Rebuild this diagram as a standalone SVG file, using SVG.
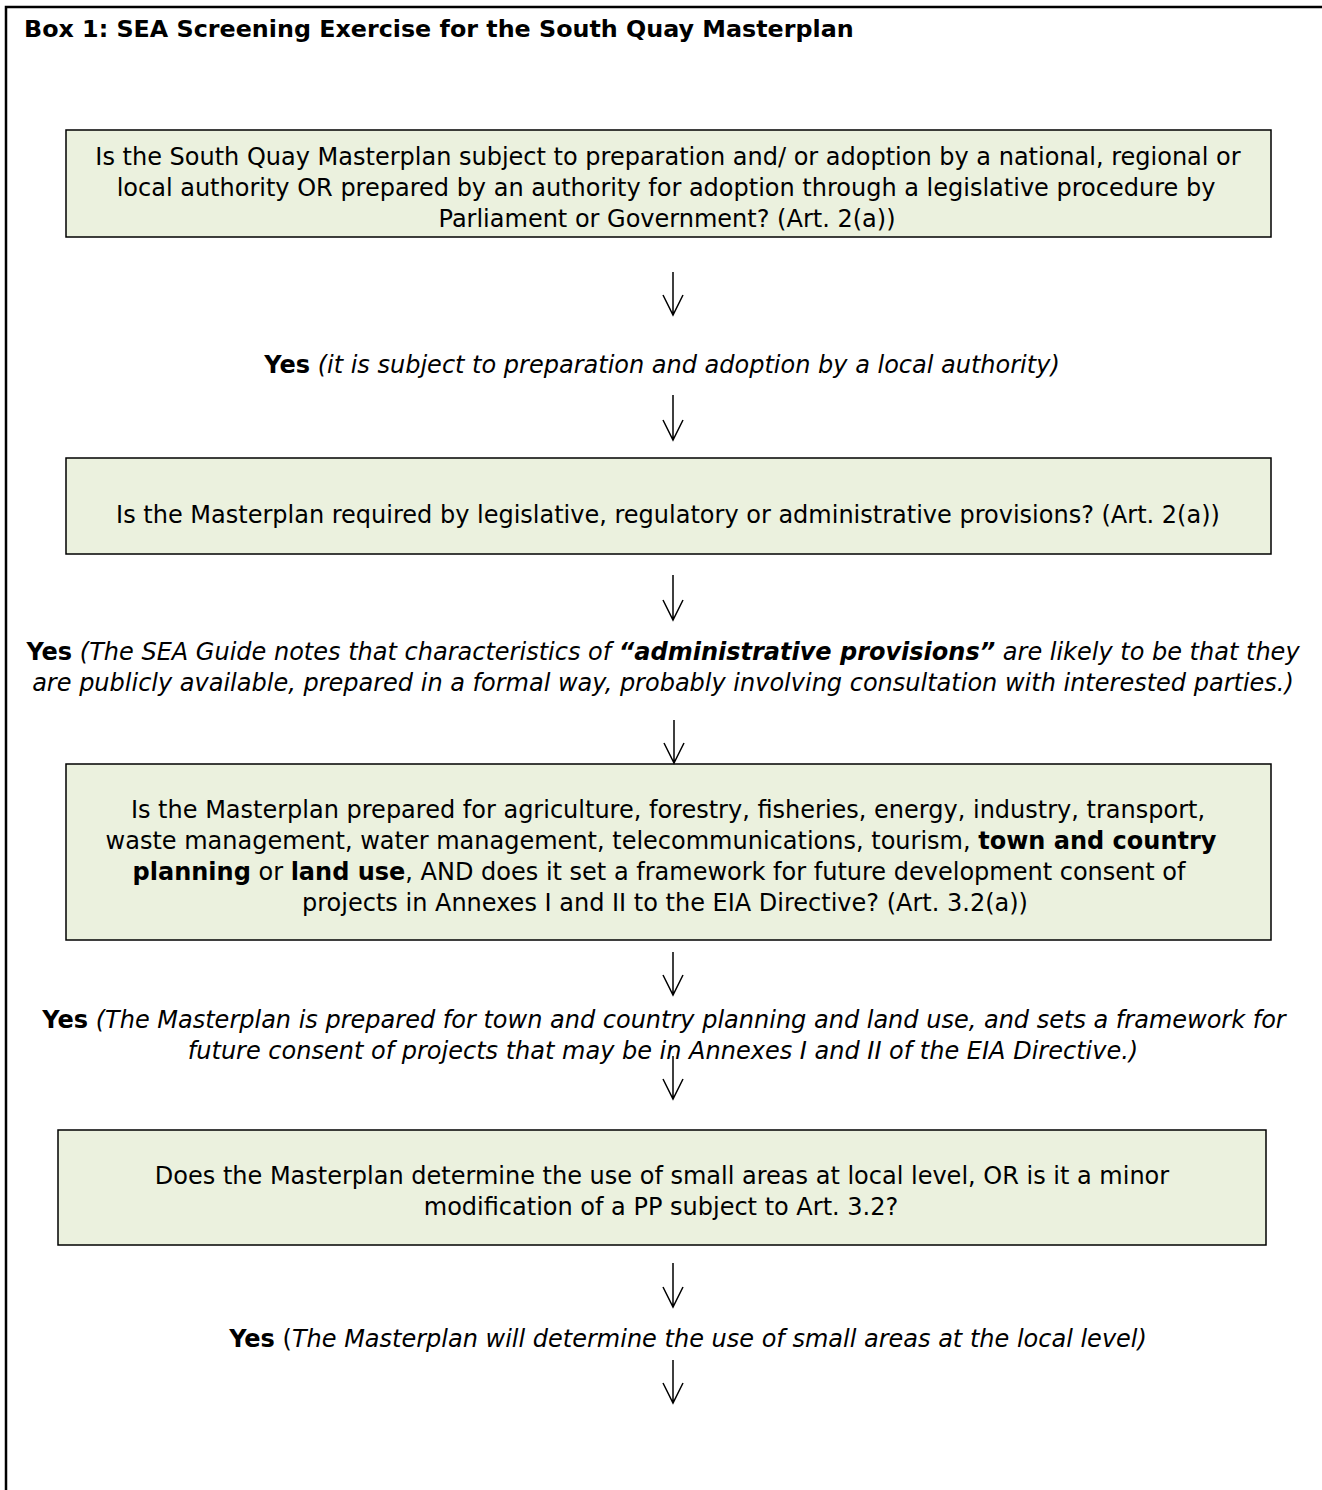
<svg xmlns="http://www.w3.org/2000/svg" width="1322" height="1490" viewBox="0 0 1322 1490">
<style>
text{font-family:"DejaVu Sans","Liberation Sans",sans-serif;font-size:24px;fill:#000}
.c{text-anchor:middle}
.b{font-weight:bold}
.i{font-style:italic}
.box{fill:#EBF1DE;stroke:#000;stroke-width:1.5}
.arr{fill:none;stroke:#000;stroke-width:1.5}
</style>
<rect width="1322" height="1490" fill="#fff"/>
<g id="frame">
<path d="M6 1490 V7 H1322" fill="none" stroke="#000" stroke-width="2.5"/>
<text x="24" y="37" class="b" style="font-size:23.8px">Box 1: SEA Screening Exercise for the South Quay Masterplan</text>
</g>
<g id="q1">
<rect class="box" x="66" y="130" width="1205" height="107"/>
<text class="c" x="668" y="165">Is the South Quay Masterplan subject to preparation and/ or adoption by a national, regional or</text>
<text class="c" x="666" y="196">local authority OR prepared by an authority for adoption through a legislative procedure by</text>
<text class="c" x="667" y="227">Parliament or Government? (Art. 2(a))</text>
</g>
<g id="a1">
<text class="c" x="662" y="373"><tspan class="b">Yes</tspan> <tspan class="i">(it is subject to preparation and adoption by a local authority)</tspan></text>
</g>
<g id="q2">
<rect class="box" x="66" y="458" width="1205" height="96"/>
<text class="c" x="668" y="523">Is the Masterplan required by legislative, regulatory or administrative provisions? (Art. 2(a))</text>
</g>
<g id="a2">
<text class="c" x="663" y="660"><tspan class="b">Yes</tspan> <tspan class="i">(The SEA Guide notes that characteristics of </tspan><tspan class="i b">“administrative provisions”</tspan><tspan class="i"> are likely to be that they</tspan></text>
<text class="c i" x="663" y="691">are publicly available, prepared in a formal way, probably involving consultation with interested parties.)</text>
</g>
<g id="q3">
<rect class="box" x="66" y="764" width="1205" height="176"/>
<text class="c" x="668" y="818">Is the Masterplan prepared for agriculture, forestry, fisheries, energy, industry, transport,</text>
<text class="c" x="661" y="849">waste management, water management, telecommunications, tourism, <tspan class="b">town and country</tspan></text>
<text class="c" x="659" y="880"><tspan class="b">planning</tspan> or <tspan class="b">land use</tspan>, AND does it set a framework for future development consent of</text>
<text class="c" x="665" y="911">projects in Annexes I and II to the EIA Directive? (Art. 3.2(a))</text>
</g>
<g id="a3">
<text class="c" x="664" y="1028"><tspan class="b">Yes</tspan> <tspan class="i">(The Masterplan is prepared for town and country planning and land use, and sets a framework for</tspan></text>
<text class="c i" x="663" y="1059">future consent of projects that may be in Annexes I and II of the EIA Directive.)</text>
</g>
<g id="q4">
<rect class="box" x="58" y="1130" width="1208" height="115"/>
<text class="c" x="662" y="1184">Does the Masterplan determine the use of small areas at local level, OR is it a minor</text>
<text class="c" x="661" y="1215">modification of a PP subject to Art. 3.2?</text>
</g>
<g id="a4">
<text class="c" x="688" y="1347"><tspan class="b">Yes</tspan> (<tspan class="i">The Masterplan will determine the use of small areas at the local level)</tspan></text>
</g>
<g id="connectors">
<path class="arr" d="M673 272V315M663 295L673 315L683 295"/>
<path class="arr" d="M673 395V440M663 420L673 440L683 420"/>
<path class="arr" d="M673 575V620M663 600L673 620L683 600"/>
<path class="arr" d="M674 720V763M664 743L674 763L684 743"/>
<path class="arr" d="M673 952V995M663 975L673 995L683 975"/>
<path class="arr" d="M673 1056V1099M663 1079L673 1099L683 1079"/>
<path class="arr" d="M673 1263V1307M663 1287L673 1307L683 1287"/>
<path class="arr" d="M673 1360V1403M663 1383L673 1403L683 1383"/>
</g>
</svg>
